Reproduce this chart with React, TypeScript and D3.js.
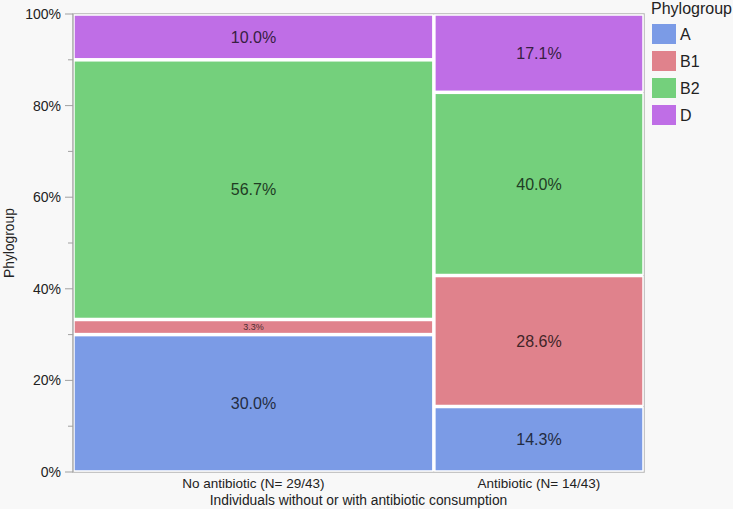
import React, { useEffect, useRef } from 'react'
import * as d3 from 'd3'

// groups on the x axis, their share of the width, and the row percentages
const groups = ['No antibiotic (N= 29/43)', 'Antibiotic (N= 14/43)']
const groupShare = [0.632, 0.368]
const phylogroups = ['A', 'B1', 'B2', 'D']
const colors = ['#7b9be6', '#e0828c', '#74d07c', '#bf6ee6']
const noAntibiotic = [30.0, 3.3, 56.7, 10.0]
const antibiotic = [14.3, 28.6, 40.0, 17.1]
const yTicks = [0, 20, 40, 60, 80, 100]
const yMinorTicks = [10, 30, 50, 70, 90]

const W = 733
const H = 509

const App: React.FC = () => {
  const svgRef = useRef<SVGSVGElement>(null)

  useEffect(() => {
    const svg = d3.select(svgRef.current)
    svg.selectAll('*').remove()

    const left = 73
    const right = 644
    const top = 14
    const bottom = 472
    const font = 'Helvetica Neue, Liberation Sans, Arial, sans-serif'

    svg.append('rect').attr('width', W).attr('height', H).attr('fill', '#f8f8f8')

    const x = d3.scaleLinear().domain([0, 1]).range([left, right])
    const y = d3.scaleLinear().domain([0, 100]).range([bottom, top])

    // frame
    svg.append('rect')
      .attr('x', left).attr('y', top)
      .attr('width', right - left).attr('height', bottom - top)
      .attr('fill', '#ffffff')
      .attr('stroke', '#b4b4b4')
      .attr('stroke-width', 1.5)

    const series = [noAntibiotic, antibiotic]
    const starts = d3.cumsum([0, ...groupShare])

    const g = svg.append('g')
    series.forEach((vals, gi) => {
      const x0 = x(starts[gi])
      const x1 = x(starts[gi + 1])
      const cum = d3.cumsum([0, ...vals])
      vals.forEach((v, pi) => {
        const yTop = y(cum[pi + 1])
        const yBot = y(cum[pi])
        g.append('rect')
          .attr('x', x0 + 1)
          .attr('y', yTop + 1)
          .attr('width', x1 - x0 - 2)
          .attr('height', Math.max(0, yBot - yTop - 2))
          .attr('fill', colors[pi])
          .attr('stroke', '#ffffff')
          .attr('stroke-width', 1.5)
        const small = v < 5
        g.append('text')
          .attr('x', (x0 + x1) / 2)
          .attr('y', (yTop + yBot) / 2)
          .attr('dy', '0.36em')
          .attr('text-anchor', 'middle')
          .attr('font-family', font)
          .attr('font-size', small ? 9 : 16)
          .attr('fill', d3.color(colors[pi])!.darker(small ? 3 : 3.5).formatHex())
          .text(`${v.toFixed(1)}%`)
      })
    })

    // y axis
    const ax = svg.append('g')
    ax.append('line')
      .attr('x1', left).attr('x2', left)
      .attr('y1', top).attr('y2', bottom)
      .attr('stroke', '#b4b4b4').attr('stroke-width', 1.5)
    yTicks.forEach(t => {
      ax.append('line')
        .attr('x1', left - 8).attr('x2', left)
        .attr('y1', y(t)).attr('y2', y(t))
        .attr('stroke', '#a0a0a0')
      ax.append('text')
        .attr('x', left - 12)
        .attr('y', y(t))
        .attr('dy', '0.36em')
        .attr('text-anchor', 'end')
        .attr('font-family', font)
        .attr('font-size', 14)
        .attr('fill', '#222')
        .text(`${t}%`)
    })
    yMinorTicks.forEach(t => {
      ax.append('line')
        .attr('x1', left - 5).attr('x2', left)
        .attr('y1', y(t)).attr('y2', y(t))
        .attr('stroke', '#a0a0a0')
    })
    svg.append('text')
      .attr('transform', `translate(9,${(top + bottom) / 2}) rotate(-90)`)
      .attr('dy', '0.36em')
      .attr('text-anchor', 'middle')
      .attr('font-family', font)
      .attr('font-size', 13.8)
      .attr('fill', '#222')
      .text('Phylogroup')

    // x labels
    groups.forEach((name, gi) => {
      svg.append('text')
        .attr('x', (x(starts[gi]) + x(starts[gi + 1])) / 2)
        .attr('y', 488)
        .attr('text-anchor', 'middle')
        .attr('font-family', font)
        .attr('font-size', 13.5)
        .attr('fill', '#222')
        .text(name)
    })
    svg.append('text')
      .attr('x', (left + right) / 2)
      .attr('y', 505)
      .attr('text-anchor', 'middle')
      .attr('font-family', font)
      .attr('font-size', 13.8)
      .attr('fill', '#222')
      .text('Individuals without or with antibiotic consumption')

    // legend
    const lg = svg.append('g').attr('transform', 'translate(651,0)')
    lg.append('text')
      .attr('x', 0).attr('y', 14)
      .attr('font-family', font)
      .attr('font-size', 16)
      .attr('fill', '#222')
      .text('Phylogroup')
    phylogroups.forEach((p, i) => {
      lg.append('rect')
        .attr('x', 1).attr('y', 24 + i * 27)
        .attr('width', 24).attr('height', 20)
        .attr('fill', colors[i])
      lg.append('text')
        .attr('x', 29).attr('y', 34 + i * 27)
        .attr('dy', '0.36em')
        .attr('font-family', font)
        .attr('font-size', 16)
        .attr('fill', '#222')
        .text(p)
    })
  }, [])

  return (
    <div style={{ position: 'absolute', left: 0, top: 0 }}>
      <svg ref={svgRef} width={W} height={H} style={{ display: 'block' }}></svg>
    </div>
  )
}

export default App
